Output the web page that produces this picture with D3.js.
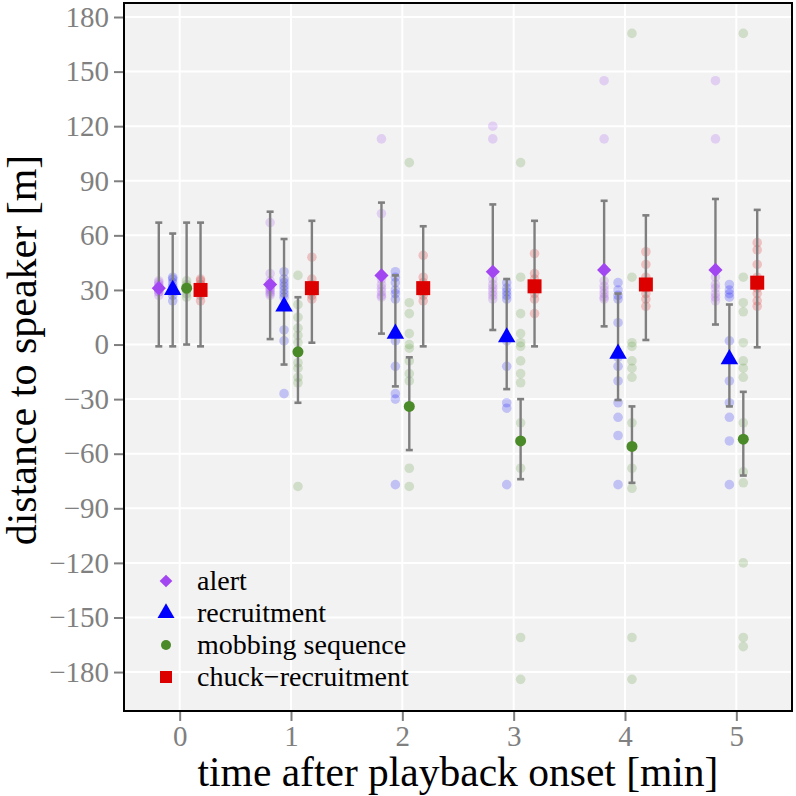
<!DOCTYPE html>
<html>
<head>
<meta charset="utf-8">
<script src="https://cdn.jsdelivr.net/npm/d3@7"></script>
<style>
  html, body { margin: 0; padding: 0; background: #ffffff; }
  svg { display: block; }
  svg text { font-family: "Liberation Serif", "Times New Roman", "DejaVu Serif", serif; }
</style>
</head>
<body>
<svg id="chart" width="796" height="796"></svg>
<script>
// ---------- data ----------
const times = [0, 1, 2, 3, 4, 5];
const yTicks = [-180, -150, -120, -90, -60, -30, 0, 30, 60, 90, 120, 150, 180];
const seriesNames = ["alert", "recruitment", "mobbing sequence", "chuck\u2212recruitment"];
const seriesColors = ["#a246f2", "#0000ff", "#4b8a28", "#dd0000"];

const alertMean = [31, 33, 38, 40, 41, 41];
const alertLow  = [-1, 3, 6, 8, 10, 11];
const alertHigh = [67, 73, 78, 77, 79, 80];

const recruitMean = [30, 21, 6, 4, -5, -8];
const recruitLow  = [-1, -11, -23, -24.5, -30.5, -34];
const recruitHigh = [61, 58, 38, 36, 28, 22];

const mobMean = [31, -4, -34, -53, -56, -52];
const mobLow  = [0, -32, -58, -74, -76, -72];
const mobHigh = [67, 26, -7, -30, -34, -26];

const chuckMean = [30, 31, 31, 32, 33, 34];
const chuckLow  = [-1, 1, -1, -1, 2.5, -1.5];
const chuckHigh = [67, 68, 65, 68, 71, 74];

const alertRaw = [
  [27, 29, 30, 31, 32, 33, 34, 35, 31, 29],
  [67, 39, 35, 33, 31, 30, 29, 28, 27, 32],
  [113, 72, 36, 33, 31, 29, 27, 26],
  [120, 113, 36, 33, 31, 29, 27, 25],
  [145, 113, 35, 32, 30, 28, 26, 25],
  [145, 113, 37, 33, 31, 28, 26, 24]
];
const recruitRaw = [
  [24, 27, 29, 30, 31, 32, 34, 36, 37],
  [40, 36, 34, 32, 30, 28, 26, 8, 2, -27],
  [40, 37, 34, 30, 28, 25, 2, -12, -27, -30, -77],
  [34, 31, 29, 27, 25, 2, -12, -32, -35, -77],
  [34, 30, 27, 25, 12, -7, -12, -20, -32, -40, -50, -77],
  [33, 30, 28, 26, 2, -8, -20, -32, -40, -53, -77]
];
const mobRaw = [
  [26, 28, 30, 31, 32, 33, 35],
  [38, 22, 15, 9, 5, 1, -10, -13, -18, -21, -78],
  [100, 23, 17, 6, 0, -2, -9, -16, -20, -68, -78],
  [100, 37, 17, 6, 1, -1, -9, -16, -21, -43, -68, -161, -184],
  [171, 37, 1, -1, -9, -13, -18, -43, -68, -79, -161, -184],
  [171, 37, 23, 18, 1, -9, -13, -18, -43, -70, -76, -120, -161, -166]
];
const chuckRaw = [
  [24, 27, 29, 30, 31, 33, 35, 36],
  [48, 36, 33, 31, 29, 27, 25],
  [49, 37, 34, 31, 29, 27, 24],
  [50, 39, 36, 33, 31, 28, 25, 17],
  [51, 44, 37, 34, 31, 28, 25, 21],
  [56, 52, 44, 37, 34, 31, 28, 24, 21]
];

const means = [alertMean, recruitMean, mobMean, chuckMean];
const lows = [alertLow, recruitLow, mobLow, chuckLow];
const highs = [alertHigh, recruitHigh, mobHigh, chuckHigh];
const raws = [alertRaw, recruitRaw, mobRaw, chuckRaw];
const dodge = [-0.1875, -0.0625, 0.0625, 0.1875];

// ---------- layout ----------
const FONT = "'Liberation Serif', 'Times New Roman', 'DejaVu Serif', serif";
const svg = d3.select("#chart");
const P = { left: 124, right: 792, top: 3, bottom: 711 };
const x = d3.scaleLinear().domain([-0.5, 5.5]).range([P.left, P.right]);
const y = d3.scaleLinear().domain([-201.4, 187.7]).range([P.bottom, P.top]);

// panel background
svg.append("rect").attr("x", P.left).attr("y", P.top)
  .attr("width", P.right - P.left).attr("height", P.bottom - P.top)
  .attr("fill", "#f2f2f2");

// grid
svg.append("g").selectAll("line").data(yTicks).join("line")
  .attr("x1", P.left).attr("x2", P.right)
  .attr("y1", d => y(d)).attr("y2", d => y(d))
  .attr("stroke", "#ffffff").attr("stroke-width", 2);
svg.append("g").selectAll("line").data(times).join("line")
  .attr("y1", P.top).attr("y2", P.bottom)
  .attr("x1", d => x(d)).attr("x2", d => x(d))
  .attr("stroke", "#ffffff").attr("stroke-width", 2);

// symbols
function shapePath(i, s) {
  if (i === 0) return d3.symbol(d3.symbolSquare, s * s)();
  if (i === 1) return d3.symbol(d3.symbolTriangle, Math.sqrt(3) / 4 * s * s)();
  if (i === 2) return d3.symbol(d3.symbolCircle, Math.PI * s * s / 4)();
  return d3.symbol(d3.symbolSquare, s * s)();
}
const meanSizes = [10, 17.5, 11, 14];
const legSizes = [9, 17, 10, 12];

// raw points
const rawG = svg.append("g");
raws.forEach((r, si) => {
  r.forEach((vals, ti) => {
    rawG.selectAll(null).data(vals).join("circle")
      .attr("cx", x(times[ti] + dodge[si]))
      .attr("cy", d => y(d))
      .attr("r", 4.8)
      .attr("fill", seriesColors[si])
      .attr("fill-opacity", 0.2);
  });
});

// error bars
const ebG = svg.append("g").attr("stroke", "#7f7f7f");
means.forEach((m, si) => {
  times.forEach((t, ti) => {
    const cx = x(t + dodge[si]);
    ebG.append("line").attr("x1", cx).attr("x2", cx)
      .attr("y1", y(lows[si][ti])).attr("y2", y(highs[si][ti]))
      .attr("stroke-width", 2.4);
    [lows[si][ti], highs[si][ti]].forEach(v => {
      ebG.append("line").attr("x1", cx - 3.5).attr("x2", cx + 3.5)
        .attr("y1", y(v)).attr("y2", y(v)).attr("stroke-width", 2.6);
    });
  });
});

// means
const mG = svg.append("g");
means.forEach((m, si) => {
  mG.selectAll(null).data(m).join("path")
    .attr("d", shapePath(si, meanSizes[si]))
    .attr("transform", (d, ti) => `translate(${x(times[ti] + dodge[si])},${y(d)})` + (si === 0 ? " rotate(45)" : ""))
    .attr("fill", seriesColors[si]);
});

// panel border
svg.append("rect").attr("x", P.left).attr("y", P.top)
  .attr("width", P.right - P.left).attr("height", P.bottom - P.top)
  .attr("fill", "none").attr("stroke", "#000000").attr("stroke-width", 2);

// y axis
const yAxis = d3.axisLeft(y).tickValues(yTicks).tickSize(9).tickPadding(5)
  .tickFormat(d => d < 0 ? "\u2212" + Math.abs(d) : String(d));
const yg = svg.append("g").attr("transform", `translate(${P.left - 1},0)`).call(yAxis)
  .attr("font-family", FONT).attr("font-size", 29);
yg.select(".domain").remove();
yg.selectAll(".tick line").attr("stroke", "#7f7f7f").attr("stroke-width", 2);
yg.selectAll(".tick text").attr("fill", "#808080").attr("font-family", FONT).attr("font-size", 29);

// x axis
const xAxis = d3.axisBottom(x).tickValues(times).tickSize(9).tickPadding(4).tickFormat(d3.format("d"));
const xg = svg.append("g").attr("transform", `translate(0,${P.bottom + 1})`).call(xAxis)
  .attr("font-family", FONT).attr("font-size", 29);
xg.select(".domain").remove();
xg.selectAll(".tick line").attr("stroke", "#7f7f7f").attr("stroke-width", 2);
xg.selectAll(".tick text").attr("fill", "#808080").attr("font-family", FONT).attr("font-size", 29);

// axis titles
svg.append("text")
  .attr("x", (P.left + P.right) / 2).attr("y", 786)
  .attr("text-anchor", "middle").attr("font-family", FONT).attr("font-size", 41.5).attr("fill", "#000")
  .text("time after playback onset [min]");
svg.append("text")
  .attr("transform", `translate(36,350) rotate(-90)`)
  .attr("text-anchor", "middle").attr("font-family", FONT).attr("font-size", 42).attr("fill", "#000")
  .text("distance to speaker [m]");

// legend
const legRows = [581, 613, 645, 677];
const lg = svg.append("g");
seriesNames.forEach((name, si) => {
  lg.append("path")
    .attr("d", shapePath(si, legSizes[si]))
    .attr("transform", `translate(166,${legRows[si]})` + (si === 0 ? " rotate(45)" : ""))
    .attr("fill", seriesColors[si]);
  lg.append("text").attr("x", 197).attr("y", legRows[si] + 9)
    .attr("font-family", FONT).attr("font-size", 28).attr("fill", "#000").text(name);
});
</script>
</body>
</html>
